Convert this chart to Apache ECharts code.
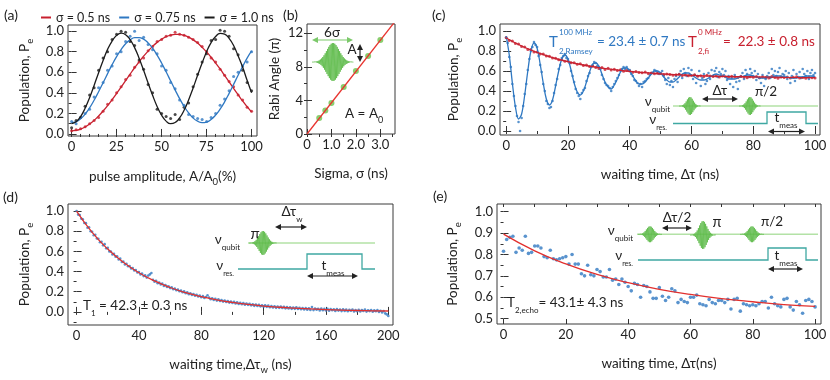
<!DOCTYPE html>
<html>
<head>
<meta charset="utf-8">
<script src="https://cdn.jsdelivr.net/npm/echarts@6/dist/echarts.min.js"></script>
<style>
  html, body { margin: 0; background: #fff; }
  #chart { width: 830px; height: 380px; }
</style>
</head>
<body>
<div id="chart"></div>
<script>
const FONT = 'Lato, "Noto Sans", "DejaVu Sans", sans-serif'
const INK = '#222'
const RED = '#c8202f'
const BLUE = '#2f78c2'
const BLACK = '#1b1b1b'
const GREEN = '#6cc24a'
const PULSE = '#5cba48'
const TEAL = '#3fa8a2'
const QUBIT_LINE = '#b3e2a6'

// (a) Rabi oscillation vs pulse amplitude (%)
const ampX = [0, 2.5, 5, 7.5, 10, 12.5, 15, 17.5, 20, 22.5, 25, 27.5, 30, 32.5, 35, 37.5, 40, 42.5, 45, 47.5, 50,
  52.5, 55, 57.5, 60, 62.5, 65, 67.5, 70, 72.5, 75, 77.5, 80, 82.5, 85, 87.5, 90, 92.5, 95, 97.5, 100]
const pe05 = [.03, .04, .05, .07, .10, .13, .16, .22, .29, .33, .40, .46, .53, .57, .65, .70, .74, .81, .85, .90, .92,
  .95, .96, .99, .97, .96, .94, .92, .89, .85, .80, .74, .70, .63, .57, .51, .46, .38, .33, .26, .22]
const pe075 = [.12, .10, .16, .20, .24, .36, .45, .50, .62, .66, .78, .80, .90, .95, 1.0, .91, .94, .87, .82, .78, .66,
  .62, .50, .44, .33, .28, .19, .17, .15, .14, .12, .16, .20, .28, .34, .42, .56, .60, .66, .70, .80]
const pe10 = [.06, .13, .16, .27, .38, .45, .62, .74, .80, .92, .97, 1.0, .99, .90, .86, .72, .63, .48, .40, .24, .20,
  .17, .15, .19, .14, .26, .30, .46, .58, .70, .78, .91, .92, 1.01, 1.0, .95, .83, .77, .62, .50, .42]
const fit05 = [.03, .034, .047, .068, .096, .132, .175, .223, .276, .334, .394, .456, .519, .582, .644, .701, .757, .806,
  .852, .891, .922, .946, .962, .969, .968, .959, .942, .916, .884, .843, .798, .746, .690, .632, .569, .507, .444, .382,
  .321, .265, .213]
const fit075 = [.11, .120, .148, .193, .254, .328, .411, .498, .587, .674, .752, .821, .877, .915, .937, .938, .922, .886,
  .834, .767, .690, .605, .517, .429, .344, .268, .205, .155, .124, .110, .116, .141, .183, .241, .312, .395, .482, .571,
  .656, .738, .808]
const fit10 = [.10, .118, .169, .250, .353, .472, .596, .715, .823, .904, .959, .98, .966, .918, .840, .737, .620, .496,
  .376, .268, .183, .125, .10, .111, .156, .231, .331, .447, .571, .690, .800, .889, .948, .978, .971, .930, .860, .760,
  .651, .522, .401]

// (b) Rabi angle vs sigma
const sigmaNs = [0.5, 0.75, 1.0, 1.5, 2.0, 2.5, 3.0]
const rabiAngle = [1.9, 2.8, 3.7, 5.6, 7.5, 9.3, 11.2]
const sigmaLine = [0, 3.6]
const angleLine = [0, 13.4]

// (c) Ramsey (blue, 0.5 ns steps) and fi decay (red, 1 ns steps)
const ramseyStep = 0.5
const ramseyPe = [
  .93, .88, .74, .64, .47, .35, .25, .15, .09, .00,
  .13, .25, .37, .47, .61, .72, .80, .84, .89, .86,
  .84, .75, .66, .59, .47, .40, .30, .27, .23, .24,
  .30, .38, .46, .52, .62, .66, .73, .75, .77, .73,
  .72, .68, .60, .55, .49, .42, .38, .35, .32, .38,
  .41, .43, .50, .55, .58, .64, .66, .69, .68, .65,
  .64, .62, .56, .52, .48, .46, .45, .43, .40, .44,
  .47, .50, .53, .56, .60, .62, .64, .62, .64, .61,
  .61, .57, .55, .51, .50, .48, .45, .47, .44, .49,
  .50, .52, .53, .56, .58, .58, .61, .60, .59, .57,
  .58, .60, .55, .51, .47, .53, .46, .50, .44, .52,
  .55, .49, .57, .60, .53, .62, .58, .55, .63, .56,
  .61, .52, .56, .48, .55, .60, .45, .53, .57, .47,
  .50, .58, .52, .61, .55, .60, .63, .54, .59, .57,
  .62, .56, .60, .51, .55, .47, .53, .44, .56, .49,
  .42, .50, .55, .58, .52, .61, .57, .54, .62, .58,
  .55, .60, .51, .57, .53, .48, .56, .45, .52, .55,
  .58, .53, .62, .56, .60, .55, .59, .63, .54, .57,
  .56, .60, .52, .58, .48, .55, .61, .50, .57, .54,
  .59, .53, .62, .57, .55, .60, .52, .58, .61, .56,
  .58]
const ramseyFit = [
  .95, .76, .48, .24, .12, .17, .36, .60, .80, .88,
  .83, .67, .48, .32, .26, .31, .45, .60, .72, .76,
  .72, .61, .48, .39, .36, .40, .49, .59, .67, .68,
  .65, .57, .49, .44, .42, .46, .52, .59, .63, .63,
  .60, .55, .50, .47, .47, .49, .53, .57, .60, .60,
  .58, .54, .51, .49, .49, .51, .54, .57, .58, .58,
  .56, .54, .52, .51, .51, .52, .54, .56, .57, .56,
  .55, .54, .52, .52, .52, .53, .54, .55, .56, .56,
  .55, .54, .53, .53, .53, .54, .54, .55, .55, .55,
  .54, .54, .53, .53, .53, .54, .54, .55, .55, .55,
  .54]
const fiPe = [
  .935, .905, .900, .875, .870, .845, .840, .815, .815, .790,
  .790, .770, .770, .750, .748, .730, .728, .712, .712, .698,
  .700, .683, .682, .668, .672, .655, .660, .645, .650, .635,
  .625, .636, .615, .628, .610, .618, .604, .612, .598, .605,
  .600, .588, .596, .585, .582, .590, .575, .580, .572, .577,
  .575, .565, .570, .566, .558, .563, .567, .555, .560, .553,
  .556, .562, .548, .553, .545, .557, .549, .544, .551, .540,
  .549, .543, .538, .547, .541, .535, .546, .539, .533, .542,
  .538, .545, .532, .540, .536, .530, .544, .535, .528, .541,
  .534, .540, .529, .537, .543, .531, .536, .527, .539, .533,
  .530]
const fiFitT = [0, 5, 10, 15, 20, 25, 30, 35, 40, 45, 50, 55, 60, 70, 80, 90, 100]
const fiFit = [.93, .85, .786, .734, .693, .66, .634, .613, .596, .583, .572, .564, .557, .547, .541, .537, .534]

// (d) T1 decay, 1 ns steps
const t1Pe = [
  1.00, .965, .960, .925, .918, .882, .880, .835, .840, .800,
  .795, .760, .765, .728, .725, .690, .695, .660, .672, .630,
  .635, .600, .598, .570, .575, .548, .552, .520, .528, .495,
  .500, .470, .478, .452, .455, .430, .436, .410, .415, .390,
  .395, .372, .380, .355, .362, .340, .360, .372, .385, .318,
  .300, .308, .285, .292, .272, .280, .258, .266, .248, .255,
  .236, .245, .225, .232, .214, .222, .204, .212, .195, .203,
  .185, .195, .176, .185, .168, .177, .160, .170, .152, .162,
  .145, .156, .138, .148, .165, .142, .125, .135, .118, .130,
  .112, .125, .108, .118, .102, .113, .098, .108, .092, .103,
  .088, .100, .084, .095, .079, .090, .076, .087, .072, .083,
  .070, .080, .065, .076, .060, .073, .058, .070, .055, .066,
  .052, .066, .050, .062, .046, .058, .044, .056, .040, .054,
  .040, .052, .038, .050, .035, .047, .034, .046, .030, .043,
  .030, .045, .028, .041, .026, .039, .024, .037, .022, .036,
  .020, .048, .018, .034, .022, .031, .015, .033, .017, .030,
  .014, .030, .012, .028, .016, .026, .010, .027, .013, .024,
  .008, .025, .010, .022, .006, .020, .011, .023, .005, .018,
  .007, .020, .004, .018, .009, .022, .003, .016, .008, .019,
  .002, .015, .006, .018, .000, .012, -.005, .008, -.015, -.025,
  -.040]
const t1FitT = [0, 10, 20, 30, 40, 50, 60, 70, 80, 90, 100, 110, 120, 130, 140, 150, 160, 170, 180, 190, 200]
const t1Fit = [1, .789, .623, .492, .388, .307, .242, .191, .151, .119, .094, .074, .058, .046, .037, .029, .023, .018,
  .014, .011, .009]

// (e) echo decay, 1 ns steps
const echoPe = [
  .815, .870, .880, .885, .810, .830, .820, .885, .805, .810,
  .840, .840, .830, .790, .785, .820, .780, .775, .780, .785,
  .790, .755, .800, .755, .755, .710, .700, .750, .705, .700,
  .730, .720, .695, .695, .730, .680, .685, .660, .685, .670,
  .650, .630, .665, .660, .600, .655, .650, .625, .595, .595,
  .645, .605, .585, .600, .640, .630, .575, .590, .580, .575,
  .600, .600, .610, .570, .565, .560, .590, .575, .570, .585,
  .585, .575, .590, .545, .590, .595, .535, .570, .565, .560,
  .565, .560, .570, .580, .580, .550, .600, .570, .560, .555,
  .590, .595, .555, .540, .580, .565, .525, .585, .590, .580,
  .555]
const echoFitT = [0, 10, 20, 30, 40, 50, 60, 70, 80, 90, 100]
const echoFit = [.895, .817, .756, .707, .668, .637, .613, .594, .579, .566, .557]

const pairs = (xs, ys) => ys.map((y, i) => [xs[i], y])
const stepped = (step, ys) => ys.map((y, i) => [i * step, y])

// minor tick positions for the frame (not data)
function tickRange(a, b, step) {
  const out = []
  for (let v = a; v <= b + step / 1000; v += step) out.push(+v.toFixed(4))
  return out
}

const NAME_RICH = {
  n: { fontSize: 13.5, fontFamily: FONT, color: INK, padding: [0, 0, 3, 0] },
  s: { fontSize: 9.5, fontFamily: FONT, color: INK, verticalAlign: 'bottom' },
}
const fixed1 = (v) => v.toFixed(1)
const plain = (v) => String(v)

const panels = [
  {
    grid: { left: 68, top: 25, width: 189, height: 111 },
    x: { min: -2, max: 103, ticks: [0, 25, 50, 75, 100], minor: tickRange(0, 100, 5), fmt: plain, name: '{n|pulse amplitude, A/A}{s|0}{n|(%)}', gap: 34 },
    y: { min: -0.02, max: 1.06, ticks: [0, 0.2, 0.4, 0.6, 0.8, 1], minor: tickRange(0, 1, 0.1), fmt: fixed1, name: '{n|Population, P}{s|e}', gap: 33 },
  },
  {
    grid: { left: 307, top: 24, width: 88, height: 110 },
    x: { min: 0, max: 3.6, ticks: [0, 1, 2, 3], minor: tickRange(0, 3.5, 0.5), fmt: (v) => (v === 0 ? '0' : v.toFixed(1)), name: '{n|Sigma, σ (ns)}', gap: 33 },
    y: { min: 0, max: 13.1, ticks: [0, 4, 8, 12], minor: tickRange(0, 12, 2), fmt: plain, name: '{n|Rabi Angle (π)}', gap: 22 },
  },
  {
    grid: { left: 500, top: 24, width: 320, height: 111 },
    x: { min: -2, max: 101.6, ticks: [0, 20, 40, 60, 80, 100], minor: tickRange(0, 100, 10), fmt: plain, name: '{n|waiting time, Δτ (ns)}', gap: 33 },
    y: { min: -0.04, max: 1.07, ticks: [0, 0.2, 0.4, 0.6, 0.8, 1], minor: tickRange(0, 1, 0.1), fmt: fixed1, name: '{n|Population, P}{s|e}', gap: 36 },
  },
  {
    grid: { left: 68, top: 204, width: 325, height: 121 },
    x: { min: -5.5, max: 203, ticks: [0, 40, 80, 120, 160, 200], minor: tickRange(0, 200, 20), fmt: plain, name: '{n|waiting time,Δτ}{s|w}{n| (ns)}', gap: 33 },
    y: { min: -0.13, max: 1.07, ticks: [0, 0.2, 0.4, 0.6, 0.8, 1], minor: tickRange(-0.1, 1, 0.1), fmt: fixed1, name: '{n|Population, P}{s|e}', gap: 33 },
  },
  {
    grid: { left: 497, top: 204, width: 324, height: 120 },
    x: { min: -2.1, max: 101.9, ticks: [0, 20, 40, 60, 80, 100], minor: tickRange(0, 100, 10), fmt: plain, name: '{n|waiting time, Δτ(ns)}', gap: 33 },
    y: { min: 0.475, max: 1.036, ticks: [0.5, 0.6, 0.7, 0.8, 0.9, 1], minor: tickRange(0.5, 1, 0.05), fmt: fixed1, name: '{n|Population, P}{s|e}', gap: 34 },
  },
]

function tickStyle(ticks, len) {
  return { inside: true, length: len, customValues: ticks, lineStyle: { color: '#333', width: 1 } }
}

const xAxes = []
const yAxes = []
panels.forEach((p, i) => {
  xAxes.push({
    type: 'value', gridIndex: i, min: p.x.min, max: p.x.max, position: 'bottom',
    splitLine: { show: false }, axisLine: { show: false }, axisTick: tickStyle(p.x.ticks, 5),
    axisLabel: { customValues: p.x.ticks, formatter: p.x.fmt, fontSize: 13, color: INK, fontFamily: FONT, margin: 4 },
    name: p.x.name, nameLocation: 'middle', nameGap: p.x.gap, nameTextStyle: { rich: NAME_RICH },
  })
  xAxes.push({
    type: 'value', gridIndex: i, min: p.x.min, max: p.x.max, position: 'top',
    splitLine: { show: false }, axisLine: { show: false }, axisTick: tickStyle(p.x.minor, 3), axisLabel: { show: false },
  })
  yAxes.push({
    type: 'value', gridIndex: i, min: p.y.min, max: p.y.max, position: 'left',
    splitLine: { show: false }, axisLine: { show: false }, axisTick: tickStyle(p.y.ticks, 5),
    axisLabel: { customValues: p.y.ticks, formatter: p.y.fmt, fontSize: 13, color: INK, fontFamily: FONT, margin: 4 },
    name: p.y.name, nameLocation: 'middle', nameGap: p.y.gap, nameTextStyle: { rich: NAME_RICH },
  })
  yAxes.push({
    type: 'value', gridIndex: i, min: p.y.min, max: p.y.max, position: 'right',
    splitLine: { show: false }, axisLine: { show: false }, axisTick: tickStyle(p.y.minor, 3), axisLabel: { show: false },
  })
})

function dots(i, data, color, size) {
  return { type: 'scatter', xAxisIndex: 2 * i, yAxisIndex: 2 * i, data, symbolSize: size, itemStyle: { color }, silent: true, z: 2 }
}
function curve(i, data, color, name, smooth) {
  return {
    type: 'line', name, xAxisIndex: 2 * i, yAxisIndex: 2 * i, data, symbol: 'none', smooth,
    lineStyle: { color, width: 1.3 }, itemStyle: { color }, silent: true, z: 3,
  }
}

const series = [
  dots(0, pairs(ampX, pe05), RED, 3),
  dots(0, pairs(ampX, pe075), BLUE, 3),
  dots(0, pairs(ampX, pe10), BLACK, 3),
  curve(0, pairs(ampX, fit05), RED, 'σ = 0.5 ns', true),
  curve(0, pairs(ampX, fit075), BLUE, 'σ = 0.75 ns', true),
  curve(0, pairs(ampX, fit10), BLACK, 'σ = 1.0 ns', true),

  curve(1, pairs(sigmaLine, angleLine), '#e8342f', 'fitB', false),
  dots(1, pairs(sigmaNs, rabiAngle), GREEN, 6),

  dots(2, stepped(ramseyStep, ramseyPe), BLUE, 2.6),
  curve(2, stepped(1, ramseyFit), BLUE, 'fitRamsey', 0.35),
  dots(2, stepped(1, fiPe), RED, 3),
  curve(2, pairs(fiFitT, fiFit), RED, 'fitFi', true),

  dots(3, stepped(1, t1Pe), BLUE, 2.6),
  curve(3, pairs(t1FitT, t1Fit), '#e2302e', 'fitT1', true),

  dots(4, stepped(1, echoPe), BLUE, 3.6),
  curve(4, pairs(echoFitT, echoFit), '#e2302e', 'fitEcho', true),
]

// ---- inset drawing helpers ----
function text(x, y, str, size, color, align) {
  return {
    type: 'text', x, y, z: 100, silent: true,
    style: { text: str, fontSize: size, fontFamily: FONT, fill: color || INK, align: align || 'left', verticalAlign: 'middle' },
  }
}
function subText(x, y, str, size, subSize, color, align) {
  const c = color || INK
  return {
    type: 'text', x, y, z: 100, silent: true,
    style: {
      text: str, align: align || 'left', verticalAlign: 'middle', fontFamily: FONT, fontSize: size, fill: c,
      rich: {
        n: { fontSize: size, fontFamily: FONT, fill: c, padding: [0, 0, 4, 0] },
        s: { fontSize: subSize, fontFamily: FONT, fill: c, verticalAlign: 'bottom' },
      },
    },
  }
}
function packet(cx, cy, hw, hh) {
  const pts = []
  let k = 0
  for (let dx = -hw; dx <= hw; dx += 0.6) {
    const env = hh * Math.exp(-Math.pow(dx / (hw * 0.42), 2))
    pts.push([cx + dx, cy + (k++ % 2 ? env : -env)])
  }
  return { type: 'polyline', z: 101, silent: true, shape: { points: pts }, style: { stroke: PULSE, lineWidth: 0.8, fill: null } }
}
function hArrow(x1, x2, y, color) {
  const c = color || INK
  return [
    { type: 'line', z: 100, silent: true, shape: { x1: x1 + 4, y1: y, x2: x2 - 4, y2: y }, style: { stroke: c, lineWidth: 1.2 } },
    { type: 'polygon', z: 100, silent: true, shape: { points: [[x1, y], [x1 + 6, y - 3], [x1 + 6, y + 3]] }, style: { fill: c } },
    { type: 'polygon', z: 100, silent: true, shape: { points: [[x2, y], [x2 - 6, y - 3], [x2 - 6, y + 3]] }, style: { fill: c } },
  ]
}
function vArrow(x, y1, y2, color) {
  const c = color || INK
  return [
    { type: 'line', z: 100, silent: true, shape: { x1: x, y1: y1 + 4, x2: x, y2: y2 - 4 }, style: { stroke: c, lineWidth: 1.2 } },
    { type: 'polygon', z: 100, silent: true, shape: { points: [[x, y1], [x - 3, y1 + 6], [x + 3, y1 + 6]] }, style: { fill: c } },
    { type: 'polygon', z: 100, silent: true, shape: { points: [[x, y2], [x - 3, y2 - 6], [x + 3, y2 - 6]] }, style: { fill: c } },
  ]
}
function qubitLine(x1, x2, y) {
  return { type: 'line', z: 99, silent: true, shape: { x1, y1: y, x2, y2: y }, style: { stroke: QUBIT_LINE, lineWidth: 1.4 } }
}
function resLine(x0, xUp, xDown, x1, yBase, yHigh) {
  return {
    type: 'polyline', z: 99, silent: true,
    shape: { points: [[x0, yBase], [xUp, yBase], [xUp, yHigh], [xDown, yHigh], [xDown, yBase], [x1, yBase]] },
    style: { stroke: TEAL, lineWidth: 1.3, fill: null },
  }
}

const graphics = [
  // panel letters
  text(4, 15, '(a)', 14), text(283, 15, '(b)', 14), text(432, 15, '(c)', 14),
  text(3, 197, '(d)', 14), text(433, 196, '(e)', 14),

  // (b) inset
  text(332, 33, '6σ', 13.5, INK, 'center'),
  ...hArrow(312, 353, 40, '#7cc96a'),
  packet(333, 62, 21, 19),
  text(352, 50, 'A', 13.5, INK, 'center'),
  ...vArrow(360, 44, 62),
  subText(345, 116, '{n|A = A}{s|0}', 13.5, 9),

  // (c) text + inset
  text(549, 42, 'T', 15, BLUE),
  text(559, 32, '100 MHz', 8, BLUE),
  text(559, 51, '2,Ramsey', 8, BLUE),
  text(597, 42, '= 23.4 ± 0.7 ns', 13.5, BLUE),
  text(688, 42, 'T', 15, RED),
  text(698, 32, '0 MHz', 8, RED),
  text(698, 51, '2,fi', 8, RED),
  text(723, 42, '=  22.3 ± 0.8 ns', 13.5, RED),
  qubitLine(673, 818, 106),
  packet(690, 106, 11, 9),
  packet(750, 106, 11, 9),
  subText(670, 104, '{n|ν}{s|qubit}', 13.5, 8, INK, 'right'),
  ...hArrow(702, 738, 99),
  text(720, 91, 'Δτ', 13.5, INK, 'center'),
  text(766, 92, 'π/2', 13.5, INK, 'center'),
  resLine(673, 767, 806, 818, 123.5, 112),
  subText(667, 122, '{n|ν}{s|res.}', 13.5, 7, INK, 'right'),
  subText(786, 120, '{n|t}{s|meas}', 13.5, 8, INK, 'center'),
  ...hArrow(768, 805, 131.5),

  // (d) inset
  qubitLine(248, 375, 243),
  packet(263, 243, 14, 12),
  text(255, 234, 'π', 15, INK, 'center'),
  subText(240, 242, '{n|ν}{s|qubit}', 13.5, 8, INK, 'right'),
  subText(292, 214, '{n|Δτ}{s|w}', 13.5, 8, INK, 'center'),
  ...hArrow(275, 307, 227),
  resLine(238, 307, 362, 375, 269, 254),
  subText(234, 268, '{n|ν}{s|res.}', 13.5, 7, INK, 'right'),
  subText(333, 268, '{n|t}{s|meas}', 13.5, 8, INK, 'center'),
  ...hArrow(307, 358, 276),
  subText(83, 308, '{n|T}{s|1}{n| = 42.3 ± 0.3 ns}', 13.5, 8),

  // (e) inset
  qubitLine(637, 818, 234.3),
  packet(650, 234.3, 12, 8),
  packet(703, 235, 13, 14),
  packet(752, 234.3, 12, 8),
  subText(633, 233, '{n|ν}{s|qubit}', 13.5, 8, INK, 'right'),
  text(677, 218, 'Δτ/2', 13.5, INK, 'center'),
  ...hArrow(662, 692, 228),
  text(717, 222, 'π', 14.5, INK, 'center'),
  text(772, 222, 'π/2', 13.5, INK, 'center'),
  resLine(638, 768, 806, 818, 260, 248),
  subText(633, 258, '{n|ν}{s|res.}', 13.5, 7, INK, 'right'),
  subText(786, 258, '{n|t}{s|meas}', 13.5, 8, INK, 'center'),
  ...hArrow(768, 803, 269),
  subText(507, 305, '{n|T}{s|2,echo}{n|= 43.1± 4.3 ns}', 13.5, 8),
]

const chart = echarts.init(document.getElementById('chart'), null, { renderer: 'canvas' })
chart.setOption({
  animation: false,
  backgroundColor: '#fff',
  textStyle: { fontFamily: FONT },
  legend: {
    data: ['σ = 0.5 ns', 'σ = 0.75 ns', 'σ = 1.0 ns'],
    left: 36, top: 6, icon: 'rect', itemWidth: 10, itemHeight: 2, itemGap: 9,
    selectedMode: false,
    textStyle: { fontSize: 12.5, color: INK, fontFamily: FONT },
  },
  grid: panels.map((p) => ({ ...p.grid, show: true, borderColor: '#3a3a3a', borderWidth: 1, backgroundColor: 'transparent' })),
  xAxis: xAxes,
  yAxis: yAxes,
  series,
  graphic: graphics,
})
</script>
</body>
</html>
